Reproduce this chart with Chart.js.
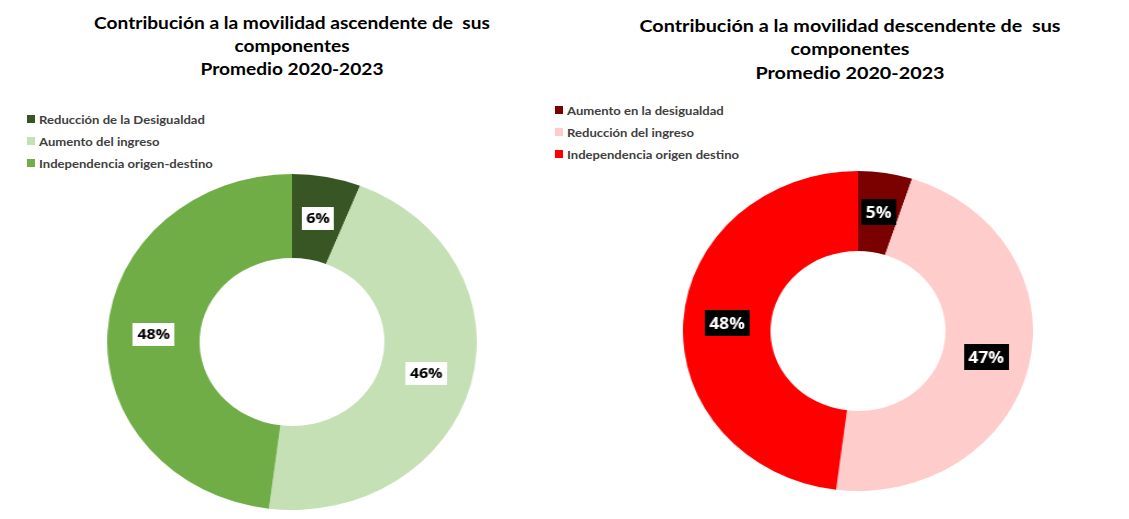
<!DOCTYPE html>
<html>
<head>
<meta charset="utf-8">
<script src="https://cdn.jsdelivr.net/npm/chart.js@4.4.1/dist/chart.umd.min.js"></script>
<style>
  html, body { margin: 0; padding: 0; background: #ffffff; }
  body { width: 1129px; height: 519px; position: relative; overflow: hidden; font-family: Lato, "Open Sans", sans-serif; }
  .title { position: absolute; text-align: center; font-weight: bold; font-size: 17.5px; color: #000; white-space: pre; transform-origin: 50% 0; }
  .legend { position: absolute; font-weight: bold; font-size: 12px; color: #404040; }
  .legend .row { display: flex; align-items: center; height: 22px; white-space: nowrap; }
  .legend .sw { width: 8px; height: 8px; margin-right: 4px; flex: none; }
  .legend .tx { display: inline-block; transform: scaleX(1.09); transform-origin: 0 50%; }
  .wrap { position: absolute; }
  .wrap canvas { display: block; }
</style>
</head>
<body>
<div class="title" id="title1" style="left:42px; top:10.5px; width:500px; line-height:23px; transform:scaleX(1.093);"></div>
<div class="title" id="title2" style="left:600px; top:13.5px; width:500px; line-height:23.5px; transform:scaleX(1.13);"></div>
<div class="legend" id="legend1" style="left:27px; top:108px;"></div>
<div class="legend" id="legend2" style="left:555px; top:99px;"></div>
<div class="wrap" id="wrap1" style="left:124px; top:174px; width:336px; height:336px; transform:scaleX(1.10); transform-origin:50% 50%;"><canvas id="c1" width="336" height="336"></canvas></div>
<div class="wrap" id="wrap2" style="left:698px; top:171px; width:320px; height:320px; transform:scaleX(1.094); transform-origin:50% 50%;"><canvas id="c2" width="320" height="320"></canvas></div>
<script>
// ---- data ----
const upTitle = ["Contribución a la movilidad ascendente de  sus", "componentes", "Promedio 2020-2023"];
const upLabels = ["Reducción de la Desigualdad", "Aumento del ingreso", "Independencia origen-destino"];
const upValues = [6, 46, 48];
const upColors = ["#375623", "#C5E0B4", "#70AD47"];

const downTitle = ["Contribución a la movilidad descendente de  sus", "componentes", "Promedio 2020-2023"];
const downLabels = ["Aumento en la desigualdad", "Reducción del ingreso", "Independencia origen destino"];
const downValues = [5, 47, 48];
const downColors = ["#7B0000", "#FFCCCC", "#FF0000"];

function fillTitle(id, lines) {
  document.getElementById(id).textContent = lines.join("\n");
}
function fillLegend(id, labels, colors) {
  const el = document.getElementById(id);
  labels.forEach((l, i) => {
    const row = document.createElement('div');
    row.className = 'row';
    const sw = document.createElement('span');
    sw.className = 'sw';
    sw.style.background = colors[i];
    const tx = document.createElement('span');
    tx.className = 'tx';
    tx.textContent = l;
    row.appendChild(sw); row.appendChild(tx);
    el.appendChild(row);
  });
}
fillTitle('title1', upTitle);
fillTitle('title2', downTitle);
fillLegend('legend1', upLabels, upColors);
fillLegend('legend2', downLabels, downColors);

const boxLabels = {
  id: 'boxLabels',
  afterDatasetsDraw(chart, args, opts) {
    const ctx = chart.ctx;
    const meta = chart.getDatasetMeta(0);
    const data = chart.data.datasets[0].data;
    ctx.save();
    ctx.font = 'bold ' + opts.size + 'px "Open Sans", sans-serif';
    ctx.textAlign = 'center';
    ctx.textBaseline = 'middle';
    meta.data.forEach((arc, i) => {
      const p = arc.tooltipPosition();
      const txt = data[i] + '%';
      const w = ctx.measureText(txt).width + 8;
      const h = opts.h;
      ctx.fillStyle = opts.box;
      ctx.fillRect(Math.round(p.x - w / 2), Math.round(p.y - h / 2), Math.round(w), h);
      ctx.fillStyle = opts.text;
      ctx.fillText(txt, p.x, p.y + 1);
    });
    ctx.restore();
  }
};

function makeChart(id, labels, values, colors, box, text, size, h) {
  return new Chart(document.getElementById(id), {
    type: 'doughnut',
    data: {
      labels: labels,
      datasets: [{ data: values, backgroundColor: colors, borderWidth: 0 }]
    },
    options: {
      responsive: false,
      animation: false,
      cutout: '50%',
      layout: { padding: 0 },
      plugins: {
        legend: { display: false },
        tooltip: { enabled: false },
        boxLabels: { box: box, text: text, size: size, h: h }
      }
    },
    plugins: [boxLabels]
  });
}
makeChart('c1', upLabels, upValues, upColors, '#ffffff', '#000000', 14.5, 23);
makeChart('c2', downLabels, downValues, downColors, '#000000', '#ffffff', 16, 26);
</script>
</body>
</html>
